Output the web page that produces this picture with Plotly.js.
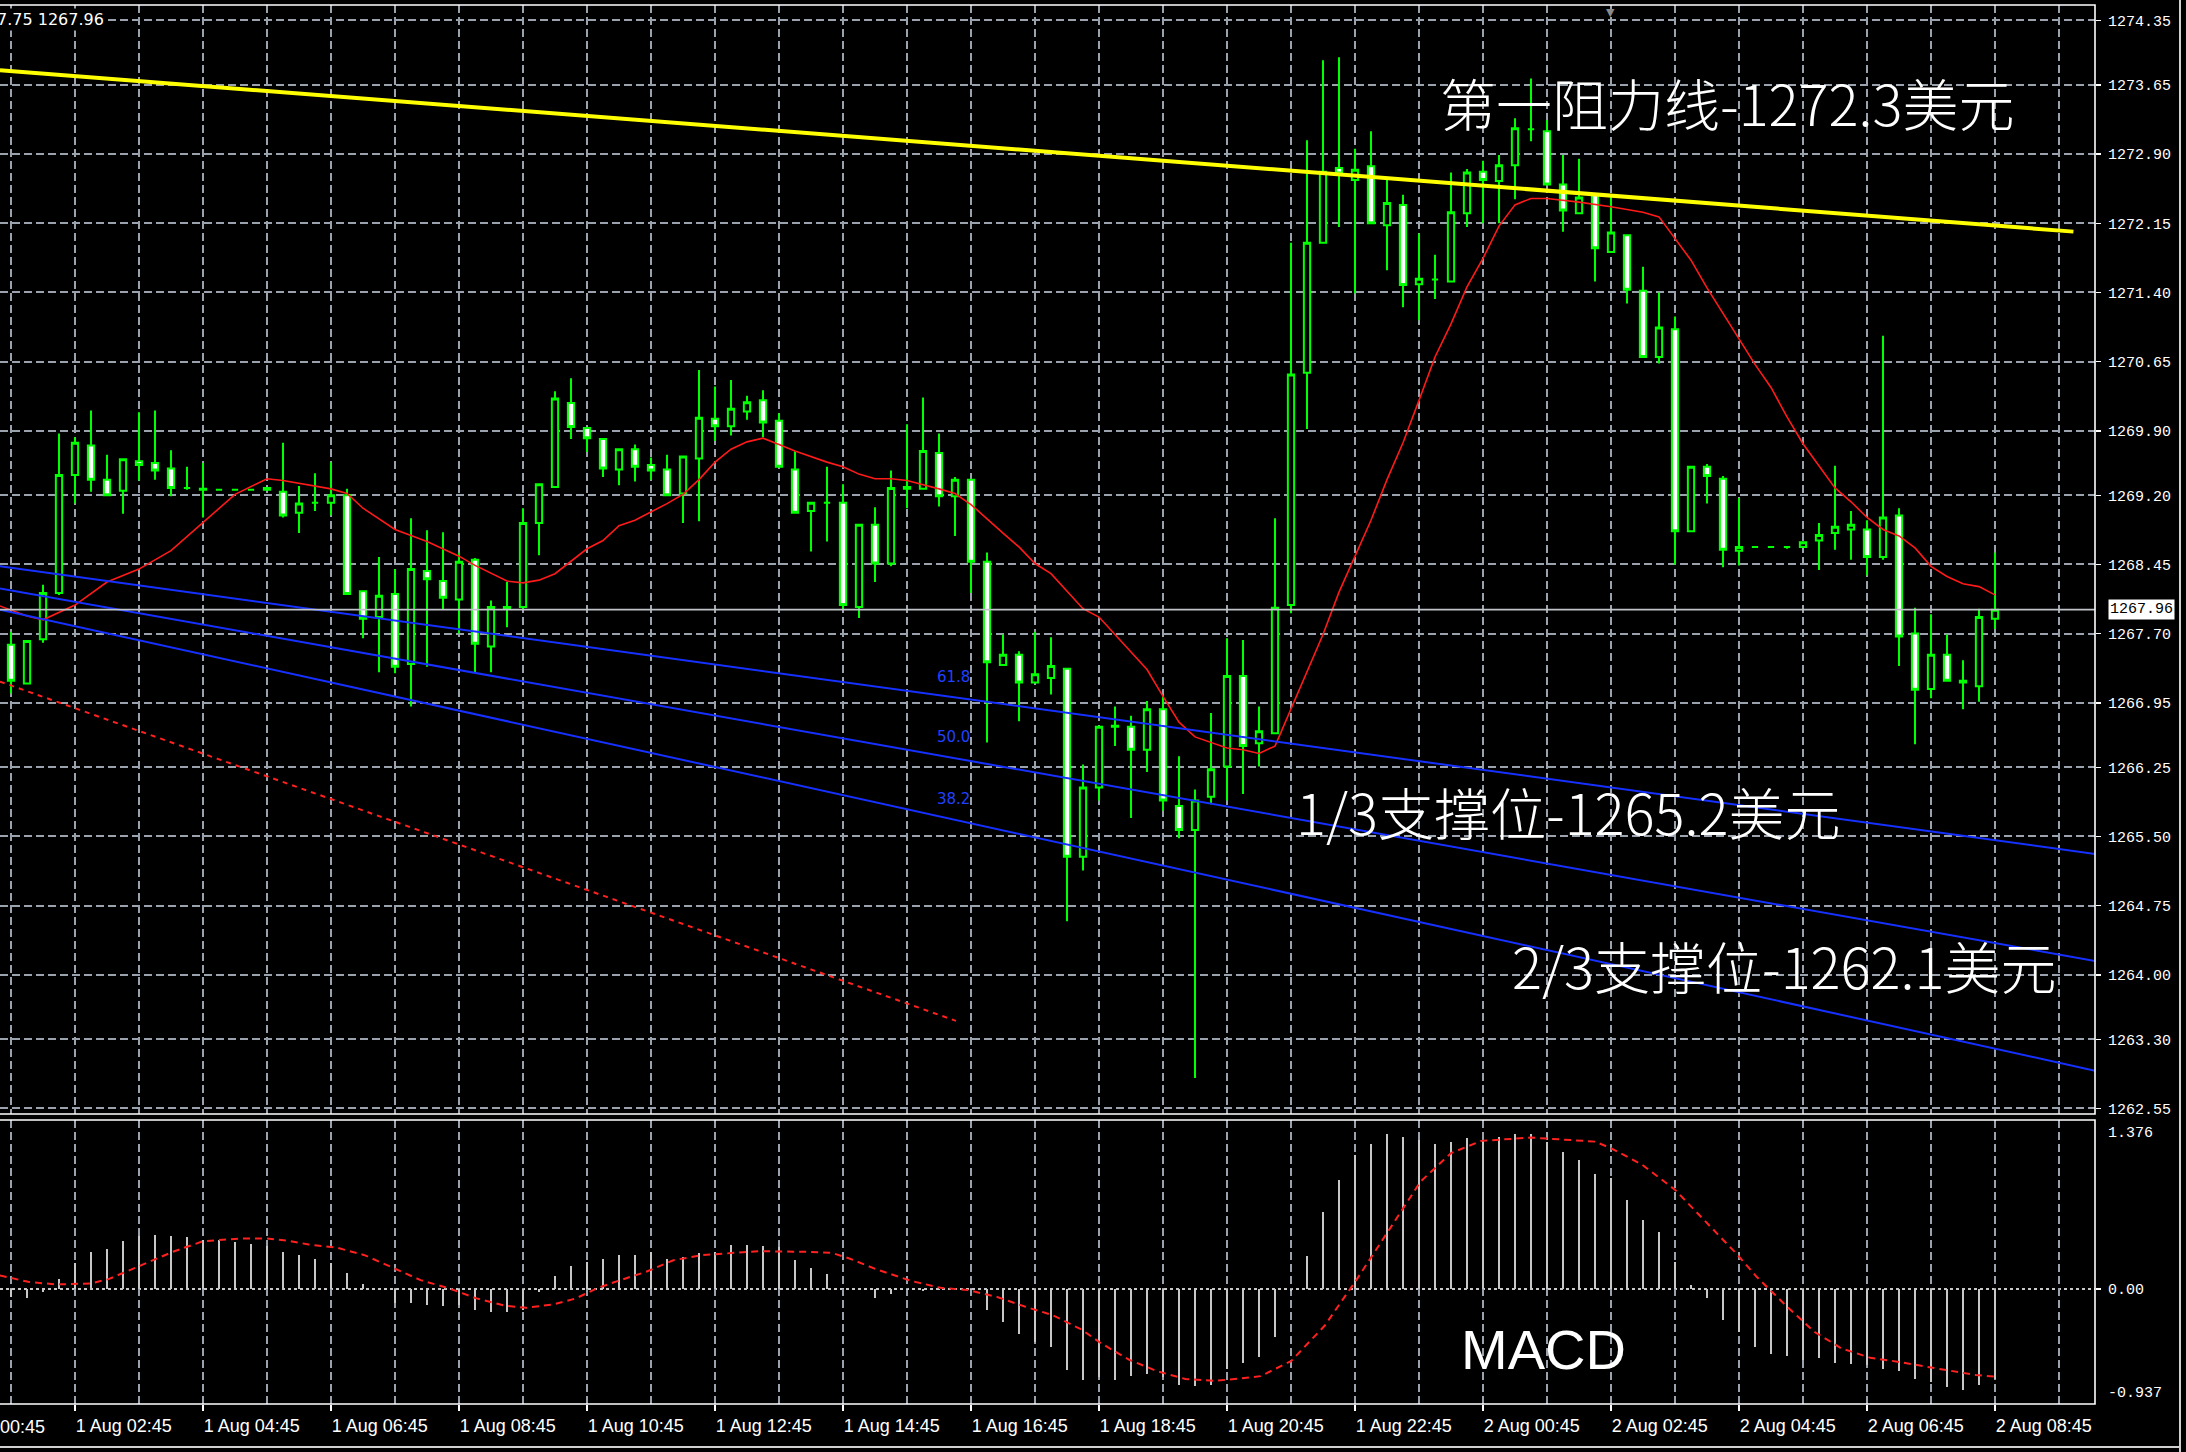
<!DOCTYPE html>
<html>
<head>
<meta charset="utf-8">
<script src="https://cdn.plot.ly/plotly-3.0.1.min.js"></script>
<style>
  html, body { margin: 0; padding: 0; background: #000; }
  #chart { width: 2186px; height: 1452px; }
</style>
</head>
<body>
<div id="chart"></div>
<script>
// XAUUSD, M15 — 1 Aug 2017 01:45 to 2 Aug 2017 08:45
const firstBar = '2017-08-01T01:45:00Z';
const barMinutes = 15;

const open = [
  1267.58,1267.16,1267.64,1268.14,1269.42,1269.74,1269.37,1269.25,1269.57,1269.55,
  1269.49,1269.28,1269.27,1269.26,1269.26,1269.26,1269.28,1269.24,1269.01,1269.12,
  1269.12,1269.20,1268.16,1267.88,1268.13,1267.37,1268.38,1268.27,1268.07,1268.50,
  1267.56,1267.99,1267.99,1268.90,1269.29,1270.20,1269.93,1269.81,1269.48,1269.70,
  1269.53,1269.48,1269.22,1269.60,1270.03,1269.95,1270.11,1270.23,1270.01,1269.48,
  1269.03,1269.12,1269.12,1267.99,1268.88,1268.46,1269.27,1269.27,1269.66,1269.19,
  1269.37,1268.48,1267.36,1267.47,1267.17,1267.22,1267.32,1265.28,1266.03,1266.70,
  1266.69,1266.44,1266.88,1265.83,1265.57,1265.93,1266.26,1267.24,1266.51,1266.62,
  1268.01,1270.53,1271.94,1272.75,1272.62,1272.77,1272.13,1272.35,1271.49,1271.54,
  1271.52,1272.26,1272.71,1272.61,1272.78,1273.17,1273.15,1272.57,1272.26,1272.46,
  1271.84,1272.02,1271.42,1270.70,1271.00,1268.81,1269.51,1269.38,1268.60,1268.64,
  1268.64,1268.64,1268.64,1268.71,1268.79,1268.83,1268.83,1268.53,1268.98,1267.70,
  1267.10,1267.47,1267.19,1267.13,1267.86
];
const high = [
  1267.72,1267.63,1268.23,1269.87,1269.83,1270.12,1269.64,1269.60,1270.10,1270.12,
  1269.69,1269.51,1269.55,1269.26,1269.26,1269.26,1269.28,1269.77,1269.30,1269.44,
  1269.56,1269.27,1268.17,1268.53,1268.40,1268.95,1268.82,1268.80,1268.58,1268.52,
  1268.06,1268.26,1269.06,1269.33,1270.33,1270.47,1269.94,1269.82,1269.71,1269.75,
  1269.61,1269.64,1269.63,1270.56,1270.38,1270.45,1270.28,1270.34,1270.09,1269.68,
  1269.13,1269.51,1269.32,1268.89,1269.07,1269.47,1269.97,1270.26,1269.87,1269.40,
  1269.38,1268.58,1267.69,1267.51,1267.72,1267.66,1267.33,1266.28,1266.70,1266.91,
  1266.81,1266.97,1267.03,1266.37,1266.01,1266.84,1267.65,1267.63,1266.91,1268.95,
  1271.94,1273.05,1273.92,1273.95,1272.96,1273.15,1272.62,1272.46,1272.04,1271.81,
  1272.70,1272.74,1272.83,1272.89,1273.29,1273.72,1273.27,1272.89,1272.85,1272.47,
  1272.46,1272.03,1271.68,1271.40,1271.14,1269.52,1269.54,1269.41,1269.17,1268.64,
  1268.64,1268.64,1268.69,1268.90,1269.52,1269.03,1268.93,1270.93,1269.06,1267.98,
  1267.91,1267.69,1267.41,1267.97,1268.58
];
const low = [
  1267.05,1267.15,1267.60,1268.12,1269.11,1269.24,1269.19,1269.00,1269.36,1269.37,
  1269.19,1269.26,1268.96,1269.26,1269.26,1269.26,1269.26,1268.96,1268.79,1269.03,
  1268.98,1268.12,1267.65,1267.28,1267.27,1266.91,1267.34,1267.96,1267.70,1267.28,
  1267.28,1267.77,1267.97,1268.55,1269.28,1269.81,1269.67,1269.40,1269.31,1269.35,
  1269.37,1269.19,1268.90,1268.92,1269.79,1269.85,1270.02,1269.83,1269.50,1269.00,
  1268.59,1268.70,1267.97,1267.87,1268.26,1268.43,1269.06,1269.26,1269.08,1268.76,
  1268.14,1266.52,1267.35,1266.75,1267.16,1267.04,1264.58,1265.13,1265.89,1266.48,
  1265.70,1266.20,1265.78,1265.48,1262.88,1265.85,1265.89,1265.96,1266.26,1266.61,
  1267.92,1269.92,1271.93,1272.11,1271.39,1272.14,1271.64,1271.24,1271.10,1271.33,
  1271.51,1272.11,1272.15,1272.15,1272.41,1273.04,1272.56,1272.06,1272.25,1271.52,
  1271.83,1271.28,1270.69,1270.63,1268.45,1268.80,1269.11,1268.42,1268.44,1268.64,
  1268.64,1268.62,1268.64,1268.39,1268.61,1268.50,1268.33,1268.50,1267.35,1266.50,
  1267.00,1267.18,1266.88,1266.96,1267.75
];
const close = [
  1267.19,1267.62,1268.14,1269.42,1269.77,1269.37,1269.20,1269.59,1269.53,1269.47,
  1269.28,1269.28,1269.26,1269.26,1269.26,1269.26,1269.26,1268.98,1269.11,1269.12,
  1269.20,1268.13,1267.86,1268.11,1267.34,1268.40,1268.29,1268.09,1268.48,1267.59,
  1267.99,1267.97,1268.90,1269.32,1270.25,1269.94,1269.82,1269.49,1269.70,1269.51,
  1269.47,1269.20,1269.62,1270.04,1269.95,1270.14,1270.21,1269.99,1269.51,1269.01,
  1269.12,1269.12,1268.01,1268.88,1268.46,1269.28,1269.29,1269.68,1269.19,1269.37,
  1268.48,1267.39,1267.47,1267.17,1267.26,1267.35,1265.28,1266.03,1266.69,1266.69,
  1266.44,1266.88,1265.89,1265.57,1265.89,1266.23,1267.24,1266.48,1266.64,1267.98,
  1270.51,1271.94,1272.71,1272.69,1272.73,1272.15,1272.37,1271.48,1271.55,1271.54,
  1272.27,1272.70,1272.62,1272.78,1273.18,1273.17,1272.57,1272.29,1272.43,1271.88,
  1272.05,1271.43,1270.70,1271.02,1268.81,1269.51,1269.41,1268.61,1268.64,1268.64,
  1268.64,1268.64,1268.69,1268.77,1268.86,1268.88,1268.53,1268.96,1267.67,1267.09,
  1267.47,1267.19,1267.17,1267.88,1267.96
];

// moving average (red), vertices by bar number
const maBar = [
  -1,1,2,4,6,8,10,12,14,16, 17,20,21,22,24,26,28,29,31,32,
  33,34,35,36,37,38,39,41,42,43, 44,45,46,47,48,49,51,52,53,54,
  55,56,58,59,60,61,62,63,64,65, 67,68,70,71,72,73,74,76,77,78,
  79,80,81,82,83,84,85,86,87,88, 89,90,91,92,93,94,95,96,98,100,
  102,103,104,105,106,107,108,109,110,111, 112,113,114,115,116,117,118,119,120,121,
  122,123,124
];
const maValue = [
  1268.02,1267.89,1267.85,1268.01,1268.26,1268.40,1268.60,1268.91,1269.21,1269.38,
  1269.36,1269.27,1269.22,1269.06,1268.83,1268.70,1268.54,1268.44,1268.27,1268.25,
  1268.28,1268.35,1268.49,1268.62,1268.71,1268.87,1268.93,1269.11,1269.21,1269.37,
  1269.56,1269.70,1269.78,1269.82,1269.75,1269.68,1269.56,1269.51,1269.43,1269.38,
  1269.38,1269.36,1269.27,1269.22,1269.10,1268.94,1268.79,1268.64,1268.46,1268.35,
  1267.97,1267.88,1267.50,1267.31,1267.02,1266.74,1266.58,1266.46,1266.44,1266.40,
  1266.48,1266.88,1267.28,1267.69,1268.15,1268.55,1268.93,1269.37,1269.77,1270.23,
  1270.70,1271.06,1271.46,1271.77,1272.12,1272.35,1272.42,1272.42,1272.38,1272.33,
  1272.27,1272.22,1271.98,1271.75,1271.45,1271.17,1270.90,1270.62,1270.37,1270.05,
  1269.76,1269.52,1269.28,1269.13,1268.96,1268.83,1268.76,1268.63,1268.43,1268.32,
  1268.24,1268.21,1268.12
];

// MACD histogram per bar
const macdHist = [
  -0.064,-0.077,-0.023,0.085,0.215,0.297,0.329,0.392,0.43,0.443,
  0.43,0.424,0.397,0.397,0.383,0.37,0.351,0.297,0.28,0.248,
  0.215,0.134,0.037,-0.004,-0.112,-0.118,-0.131,-0.14,-0.131,-0.172,
  -0.186,-0.191,-0.172,-0.023,0.107,0.188,0.221,0.248,0.28,0.28,
  0.302,0.248,0.262,0.289,0.302,0.356,0.362,0.348,0.343,0.234,
  0.167,0.121,0.005,-0.01,-0.077,-0.045,-0.01,-0.018,-0.01,-0.005,
  -0.005,-0.172,-0.267,-0.37,-0.43,-0.47,-0.66,-0.74,-0.72,-0.74,
  -0.71,-0.69,-0.72,-0.78,-0.79,-0.78,-0.65,-0.60,-0.556,-0.393,
  -0.02,0.271,0.626,0.889,1.092,1.179,1.26,1.241,1.214,1.179,
  1.195,1.228,1.206,1.241,1.26,1.26,1.2,1.114,1.051,0.935,
  0.902,0.726,0.564,0.463,0.22,0.035,-0.073,-0.249,-0.35,-0.47,
  -0.53,-0.55,-0.58,-0.565,-0.6,-0.61,-0.62,-0.65,-0.67,-0.73,
  -0.755,-0.80,-0.82,-0.78,-0.73
];
// MACD signal line (red dashes), vertices by bar number
const sigBar = [
  -0.7,1.07,2.8,5.0,6.1,8.1,10.1,12.0,14.2,16, 17.3,18.6,20.4,22.1,23.9,25.6,27.4,29.1,30.9,32.2,
  33.9,35.3,36.6,37.9,39.7,41.4,43.2,44.9,46.7,49.8, 51.3,52.4,54.1,56.3,58.1,59.8,61.6,63.4,65.1,66.9,
  68.1,69.9,71.7,73.4,75.2,76.8,78.1,80,82.1,84.1, 86.1,88.1,90,91.9,95,99,100,101.9,104,106.1,
  107.9,109.1,110.9,112.7,114.4,116.2,117.9,119.7,121.5,122.8, 124
];
const sigValue = [
  0.11,0.058,0.037,0.045,0.08,0.194,0.302,0.389,0.41,0.41, 0.394,0.362,0.335,0.275,0.172,0.072,0.004,-0.077,-0.137,-0.153,
  -0.126,-0.077,0.004,0.064,0.14,0.234,0.275,0.294,0.308,0.302, 0.294,0.248,0.159,0.064,0.009,-0.009,-0.064,-0.145,-0.213,-0.33,
  -0.44,-0.578,-0.673,-0.733,-0.749,-0.729,-0.71,-0.588,-0.30,0.076, 0.47,0.875,1.106,1.206,1.233,1.2,1.146,1.016,0.808,0.523,
  0.279,0.099,-0.131,-0.348,-0.484,-0.56,-0.592,-0.633,-0.673,-0.701, -0.714
];

// price scale labels
const priceTicks = [1274.35,1273.65,1272.90,1272.15,1271.40,1270.65,1269.90,1269.20,1268.45,
                    1267.70,1266.95,1266.25,1265.50,1264.75,1264.00,1263.30,1262.55];
const macdTicks = [1.376, 0, -0.937];
const currentPrice = 1267.96;

// drawn objects: resistance line, channel lines, falling trend line
const resistanceBar = [-0.69, 128.9];
const resistancePrice = [1273.81, 1272.06];
const channelBar = [-0.69, 130.25];
const channelUpper = [1268.43, 1265.31];
const channelMiddle = [1268.19, 1264.15];
const channelLower = [1267.96, 1262.96];
const trendBar = [-0.69, 59.06];
const trendPrice = [1267.18, 1263.50];
const fibLevels = ['61.8', '50.0', '38.2'];

const resistanceText = '第一阻力线-1272.3美元';
const support1Text = '1/3支撑位-1265.2美元';
const support2Text = '2/3支撑位-1262.1美元';
const paneTitle = 'MACD';

// ---------- helpers ----------
const t0 = Date.parse(firstBar);
const barMs = barMinutes * 60000;
function barTime(k) {
  return new Date(t0 + k * barMs).toISOString().replace('T', ' ').replace('Z', '');
}
const monthNames = ['Jan','Feb','Mar','Apr','May','Jun','Jul','Aug','Sep','Oct','Nov','Dec'];
function fmtLabel(ms) {
  const d = new Date(ms);
  const hh = String(d.getUTCHours()).padStart(2, '0');
  const mm = String(d.getUTCMinutes()).padStart(2, '0');
  return d.getUTCDate() + ' ' + monthNames[d.getUTCMonth()] + ' ' + hh + ':' + mm;
}

const times = open.map((_, i) => barTime(i));
const viewLeft = -0.6875, viewRight = 130.25;        // visible window in bars
const xRange = [barTime(viewLeft), barTime(viewRight)];

const gridColor = '#9aa3ad';
const gridDash = '8px,4px';
const monoFont = {family: 'Liberation Mono, DejaVu Sans Mono, monospace', size: 15, color: '#ffffff'};
const cjkFont = {family: 'Noto Sans CJK SC, sans-serif', size: 56, color: '#ffffff', weight: 300};

const traces = [
  {
    type: 'candlestick', x: times, open: open, high: high, low: low, close: close,
    xaxis: 'x', yaxis: 'y', whiskerwidth: 0, hoverinfo: 'skip',
    increasing: {line: {color: '#00ff00', width: 2}, fillcolor: '#000000'},
    decreasing: {line: {color: '#00ff00', width: 2}, fillcolor: '#ffffff'}
  },
  {
    type: 'scatter', mode: 'lines', x: maBar.map(barTime), y: maValue,
    xaxis: 'x', yaxis: 'y', line: {color: '#ff1a1a', width: 1.6}, hoverinfo: 'skip'
  },
  {
    type: 'scatter', mode: 'lines', x: trendBar.map(barTime), y: trendPrice,
    xaxis: 'x', yaxis: 'y', line: {color: '#ff2020', width: 2, dash: '5px,5px'}, hoverinfo: 'skip'
  },
  ...[channelUpper, channelMiddle, channelLower].map(p => ({
    type: 'scatter', mode: 'lines', x: channelBar.map(barTime), y: p,
    xaxis: 'x', yaxis: 'y', line: {color: '#1530ff', width: 2}, hoverinfo: 'skip'
  })),
  {
    type: 'scatter', mode: 'lines', x: resistanceBar.map(barTime), y: resistancePrice,
    xaxis: 'x', yaxis: 'y', line: {color: '#ffff00', width: 4}, hoverinfo: 'skip'
  },
  {
    type: 'bar', x: times, y: macdHist, xaxis: 'x', yaxis: 'y2',
    width: 0.13 * barMs, marker: {color: '#c8c8c8', line: {width: 0}}, hoverinfo: 'skip'
  },
  {
    type: 'scatter', mode: 'lines', x: sigBar.map(barTime), y: sigValue,
    xaxis: 'x', yaxis: 'y2', line: {color: '#ff2020', width: 2, dash: '7px,5px'}, hoverinfo: 'skip'
  }
];

// paper coordinates of the plot area: width 2095 px, height 1399 px starting at y=5
const plotW = 2095, plotH = 1399, plotTop = 5;
const px = x => x / plotW;
const py = y => (plotTop + plotH - y) / plotH;
const lastIdx = close.length - 1;
const leftLabelMs = t0 - 4 * barMs;
const viewSpan = (viewRight - viewLeft) * barMs;

const annotations = [
  // OHLC readout of the last bar, running off the left edge
  {xref: 'paper', yref: 'paper', x: px(106), y: py(20), xanchor: 'right', yanchor: 'middle',
   text: [open[lastIdx], high[lastIdx], low[lastIdx], close[lastIdx]].map(v => v.toFixed(2)).join(' '),
   showarrow: false, bgcolor: '#000000',
   font: {family: 'DejaVu Sans, sans-serif', size: 16, color: '#ffffff'}},
  // current bid on the price scale
  {xref: 'paper', yref: 'y', x: px(2108), y: currentPrice, xanchor: 'left', yanchor: 'middle',
   text: currentPrice.toFixed(2), showarrow: false, bgcolor: '#ffffff', borderpad: 1,
   font: {family: monoFont.family, size: 15, color: '#000000'}},
  // MACD scale extremes
  {xref: 'paper', yref: 'y2', x: px(2106), y: macdTicks[0], xanchor: 'left', yanchor: 'top',
   text: macdTicks[0].toFixed(3), showarrow: false, font: monoFont, yshift: -3},
  {xref: 'paper', yref: 'y2', x: px(2106), y: macdTicks[2], xanchor: 'left', yanchor: 'bottom',
   text: macdTicks[2].toFixed(3), showarrow: false, font: monoFont},
  // time label that starts before the visible window
  {xref: 'paper', yref: 'paper', x: (leftLabelMs - t0 - viewLeft * barMs) / viewSpan, y: py(1427),
   xanchor: 'left', yanchor: 'middle', text: fmtLabel(leftLabelMs), showarrow: false,
   font: {family: 'Liberation Sans, Arial, sans-serif', size: 18, color: '#ffffff'}},
  // fibonacci level tags
  ...fibLevels.map((t, k) => ({
    xref: 'paper', yref: 'paper', x: px(972), y: py([677, 737, 799][k]), xanchor: 'right', yanchor: 'middle',
    text: t, showarrow: false, font: {family: 'DejaVu Sans, sans-serif', size: 15, color: '#2040ff'}
  })),
  // commentary
  {xref: 'paper', yref: 'paper', x: px(1438), y: py(101), xanchor: 'left', yanchor: 'middle',
   text: resistanceText, showarrow: false, font: cjkFont},
  {xref: 'paper', yref: 'paper', x: px(1294), y: py(810), xanchor: 'left', yanchor: 'middle',
   text: support1Text, showarrow: false, font: cjkFont},
  {xref: 'paper', yref: 'paper', x: px(1510), y: py(964), xanchor: 'left', yanchor: 'middle',
   text: support2Text, showarrow: false, font: cjkFont},
  {xref: 'paper', yref: 'paper', x: px(1459), y: py(1349), xanchor: 'left', yanchor: 'middle',
   text: paneTitle, showarrow: false,
   font: {family: 'Liberation Sans, Arial, sans-serif', size: 56, color: '#ffffff'}},
  // chart shift marker
  {xref: 'paper', yref: 'paper', x: px(1610), y: py(4), xanchor: 'center', yanchor: 'top',
   text: '▼', showarrow: false, font: {family: 'DejaVu Sans, sans-serif', size: 11, color: '#8a8a8a'}}
];

const shapes = [
  // bid line
  {type: 'line', xref: 'paper', x0: 0, x1: 1, yref: 'y', y0: currentPrice, y1: currentPrice,
   line: {color: '#c0c4c8', width: 1.6}, layer: 'above'},
  // MACD zero level
  {type: 'line', xref: 'paper', x0: 0, x1: 1, yref: 'y2', y0: 0, y1: 0,
   line: {color: '#c8c8c8', width: 2, dash: '3px,3px'}, layer: 'below'},
  // pane frames
  {type: 'rect', xref: 'paper', x0: -0.01, x1: 1, yref: 'y domain', y0: 0, y1: 1,
   line: {color: '#ffffff', width: 1.6}, layer: 'above'},
  {type: 'rect', xref: 'paper', x0: -0.01, x1: 1, yref: 'y2 domain', y0: 0, y1: 1,
   line: {color: '#ffffff', width: 1.6}, layer: 'above'},
  // window frame
  {type: 'line', xref: 'paper', yref: 'paper', x0: px(2180), x1: px(2180), y0: py(0), y1: py(1452),
   line: {color: '#d0d0d0', width: 2}},
  {type: 'line', xref: 'paper', yref: 'paper', x0: px(-10), x1: px(2181), y0: py(1447), y1: py(1447),
   line: {color: '#d0d0d0', width: 2}}
];

const layout = {
  width: 2186, height: 1452,
  paper_bgcolor: '#000000', plot_bgcolor: '#000000',
  margin: {l: 0, r: 91, t: 5, b: 48},
  showlegend: false, hovermode: false,
  boxgap: 0.44, bargap: 0,
  xaxis: {
    type: 'date', range: xRange, anchor: 'y2', rangeslider: {visible: false},
    tick0: barTime(-4), dtick: 2 * 3600000, tickformat: '%-d %b %H:%M',
    ticks: 'outside', ticklen: 6, tickwidth: 1.5, tickcolor: '#ffffff',
    ticklabelposition: 'outside right', ticklabelstandoff: 5,
    tickfont: {family: 'Liberation Sans, Arial, sans-serif', size: 18, color: '#ffffff'},
    showgrid: true, gridcolor: gridColor, griddash: gridDash, gridwidth: 2,
    minor: {tick0: barTime(-4), dtick: 3600000, showgrid: true, gridcolor: gridColor,
            griddash: gridDash, gridwidth: 2, ticks: ''},
    showline: false, zeroline: false, fixedrange: true
  },
  yaxis: {
    domain: [0.2073, 1], range: [1262.49, 1274.518], side: 'right', anchor: 'x',
    tickmode: 'array', tickvals: priceTicks, ticktext: priceTicks.map(v => v.toFixed(2)),
    ticks: 'outside', ticklen: 5, tickwidth: 1.5, tickcolor: '#ffffff', ticklabelstandoff: 4,
    tickfont: monoFont,
    showgrid: true, gridcolor: gridColor, griddash: gridDash, gridwidth: 2,
    showline: false, zeroline: false, fixedrange: true
  },
  yaxis2: {
    domain: [0, 0.203], range: [macdTicks[2], macdTicks[0]], side: 'right', anchor: 'x',
    tickmode: 'array', tickvals: [macdTicks[1]], ticktext: [macdTicks[1].toFixed(2)],
    ticks: 'outside', ticklen: 5, tickwidth: 1.5, tickcolor: '#ffffff', ticklabelstandoff: 4,
    tickfont: monoFont, showgrid: false, showline: false, zeroline: false, fixedrange: true
  },
  annotations: annotations,
  shapes: shapes
};

Plotly.newPlot('chart', traces, layout, {displayModeBar: false, staticPlot: true});
</script>
</body>
</html>
